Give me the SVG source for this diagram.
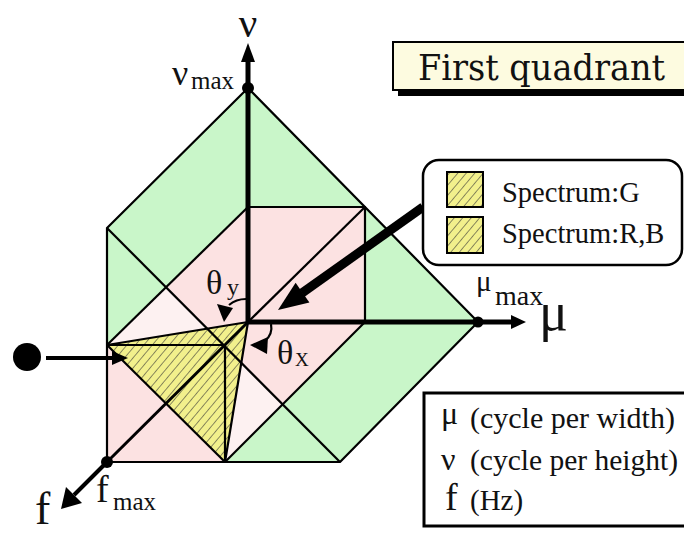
<svg xmlns="http://www.w3.org/2000/svg" width="684" height="534" viewBox="0 0 684 534">
<style>
.g{fill:#c9f6c9}
.p{fill:#fce2e2}
.lp{fill:#fdf1f1}
.ln{stroke:#000;stroke-width:2.2;fill:none;stroke-linejoin:round}
.ax{stroke:#000;stroke-width:5;fill:none}
.t{font-family:"Liberation Serif","Times New Roman",serif;fill:#111}
</style>
<defs>
<pattern id="hatch" patternUnits="userSpaceOnUse" width="6.5" height="6.5" patternTransform="rotate(40)">
<rect width="6.5" height="6.5" fill="#f2f08c"/>
<line x1="0" y1="0" x2="0" y2="6.5" stroke="#333" stroke-width="1.1"/>
</pattern>
</defs>
<rect width="684" height="534" fill="#fff"/>

<g id="spectrum-solid">
<polygon class="g" points="248,88 107,228 166,287 248,207"/>
<polygon class="g" points="107,228 107,345 166,287"/>
<polygon class="g" points="248,88 365,207 248,207"/>
<polygon class="g" points="365,207 478,322 365,322"/>
<polygon class="g" points="365,322 478,322 340,462 283,404"/>
<polygon class="g" points="283,404 340,462 225,462"/>
<polygon class="p" points="248,207 365,207 365,322 248,322"/>
<polygon class="p" points="166,287 248,207 248,322 207.6,328.6"/>
<polygon class="p" points="248,322 365,322 283,404 241.4,362.4"/>
<polygon class="p" points="107,345 225,462 107,462"/>
<polygon class="lp" points="107,345 166,287 207.6,328.6"/>
<polygon class="lp" points="241.4,362.4 283,404 225,462"/>
<polygon fill="url(#hatch)" points="107,345 248,322 225,462"/>
<polygon class="ln" points="248,88 107,228 107,462 340,462 478,322"/>
<line class="ln" x1="107" y1="228" x2="340" y2="462"/>
<polyline class="ln" points="248,207 365,207 365,322"/>
<line class="ln" x1="365" y1="207" x2="248" y2="322"/>
<line class="ln" x1="107" y1="345" x2="248" y2="207"/>
<line class="ln" x1="225" y1="462" x2="365" y2="322"/>
<polyline class="ln" points="107,345 225,345 225,462"/>
<line class="ln" x1="107" y1="345" x2="225" y2="462"/>
<polyline class="ln" points="107,345 248,322 225,462"/>
</g>

<g id="axes">
<line class="ax" x1="248" y1="322" x2="248" y2="60"/>
<polygon points="241,62 255,62 248,43"/>
<line class="ax" x1="246" y1="322" x2="514" y2="322"/>
<polygon points="511,315 511,329 526,322"/>
<line stroke="#000" stroke-width="3" x1="248" y1="322" x2="107" y2="462"/>
<line stroke="#000" stroke-width="4" x1="107" y1="462" x2="74" y2="495"/>
<polygon points="66,487 82,503 61,509"/>
<circle cx="248" cy="88" r="6"/>
<circle cx="478" cy="322" r="5.5"/>
<circle cx="107" cy="462" r="6"/>
</g>

<g id="axis-labels" class="t">
<text x="248" y="37" font-size="41" text-anchor="middle">ν</text>
<text x="172" y="85" font-size="36">ν</text>
<text x="191" y="89" font-size="25">max</text>
<text x="539" y="330" font-size="54">μ</text>
<text x="476" y="291" font-size="29">μ</text>
<text x="495" y="305" font-size="28">max</text>
<text x="35" y="524" font-size="46">f</text>
<text x="96" y="502" font-size="38">f</text>
<text x="113" y="510" font-size="25">max</text>
</g>

<g id="angles">
<text class="t" x="206" y="294" font-size="34">θ</text>
<text class="t" x="227" y="295" font-size="24">y</text>
<path class="ln" stroke-width="3" d="M246,299 Q236,299 229,305"/>
<polygon points="217,304 233,308 224,322"/>
<text class="t" x="277" y="364" font-size="34">θ</text>
<text class="t" x="295" y="366" font-size="19">X</text>
<path class="ln" stroke-width="3" d="M271,324 Q273,334 265,341"/>
<polygon points="250,345 268,337 267,354"/>
</g>

<g id="input-source">
<circle cx="27" cy="357" r="14"/>
</g>

<g id="connectors">
<line stroke="#000" stroke-width="4" x1="46" y1="358" x2="114" y2="358"/>
<polygon points="112,351 112,365 128,358"/>
<line stroke="#000" stroke-width="9" x1="423" y1="207" x2="302" y2="293"/>
<polygon points="278,310 295.6,282.8 309.4,302.4"/>
</g>

<g id="title">
<rect x="398" y="48" width="292" height="48" fill="#000"/>
<rect x="393" y="42" width="292" height="48" fill="#fdfbe0" stroke="#000" stroke-width="2"/>
<text x="418" y="80" font-family="'DejaVu Serif','Liberation Serif',serif" font-size="35" textLength="247" lengthAdjust="spacingAndGlyphs" fill="#111">First quadrant</text>
</g>

<g id="legend">
<rect x="423" y="160" width="259" height="105" rx="16" fill="#fff" stroke="#000" stroke-width="2.5"/>
<rect x="447" y="172" width="36" height="35" fill="url(#hatch)" stroke="#000" stroke-width="2"/>
<rect x="447" y="217" width="36" height="36" fill="url(#hatch)" stroke="#000" stroke-width="2"/>
<text class="t" x="502" y="202" font-size="28.5">Spectrum:G</text>
<text class="t" x="502" y="243" font-size="28.5">Spectrum:R,B</text>
</g>

<g id="units">
<rect x="424" y="393" width="270" height="133" fill="#fff" stroke="#000" stroke-width="3"/>
<text class="t" x="441" y="424" font-size="32">μ</text>
<text class="t" x="470" y="428" font-size="30">(cycle per width)</text>
<text class="t" x="441" y="470" font-size="32">ν</text>
<text class="t" x="470" y="470" font-size="29.5">(cycle per height)</text>
<text class="t" x="445" y="510" font-size="38">f</text>
<text class="t" x="470" y="510" font-size="29">(Hz)</text>
</g>
</svg>
